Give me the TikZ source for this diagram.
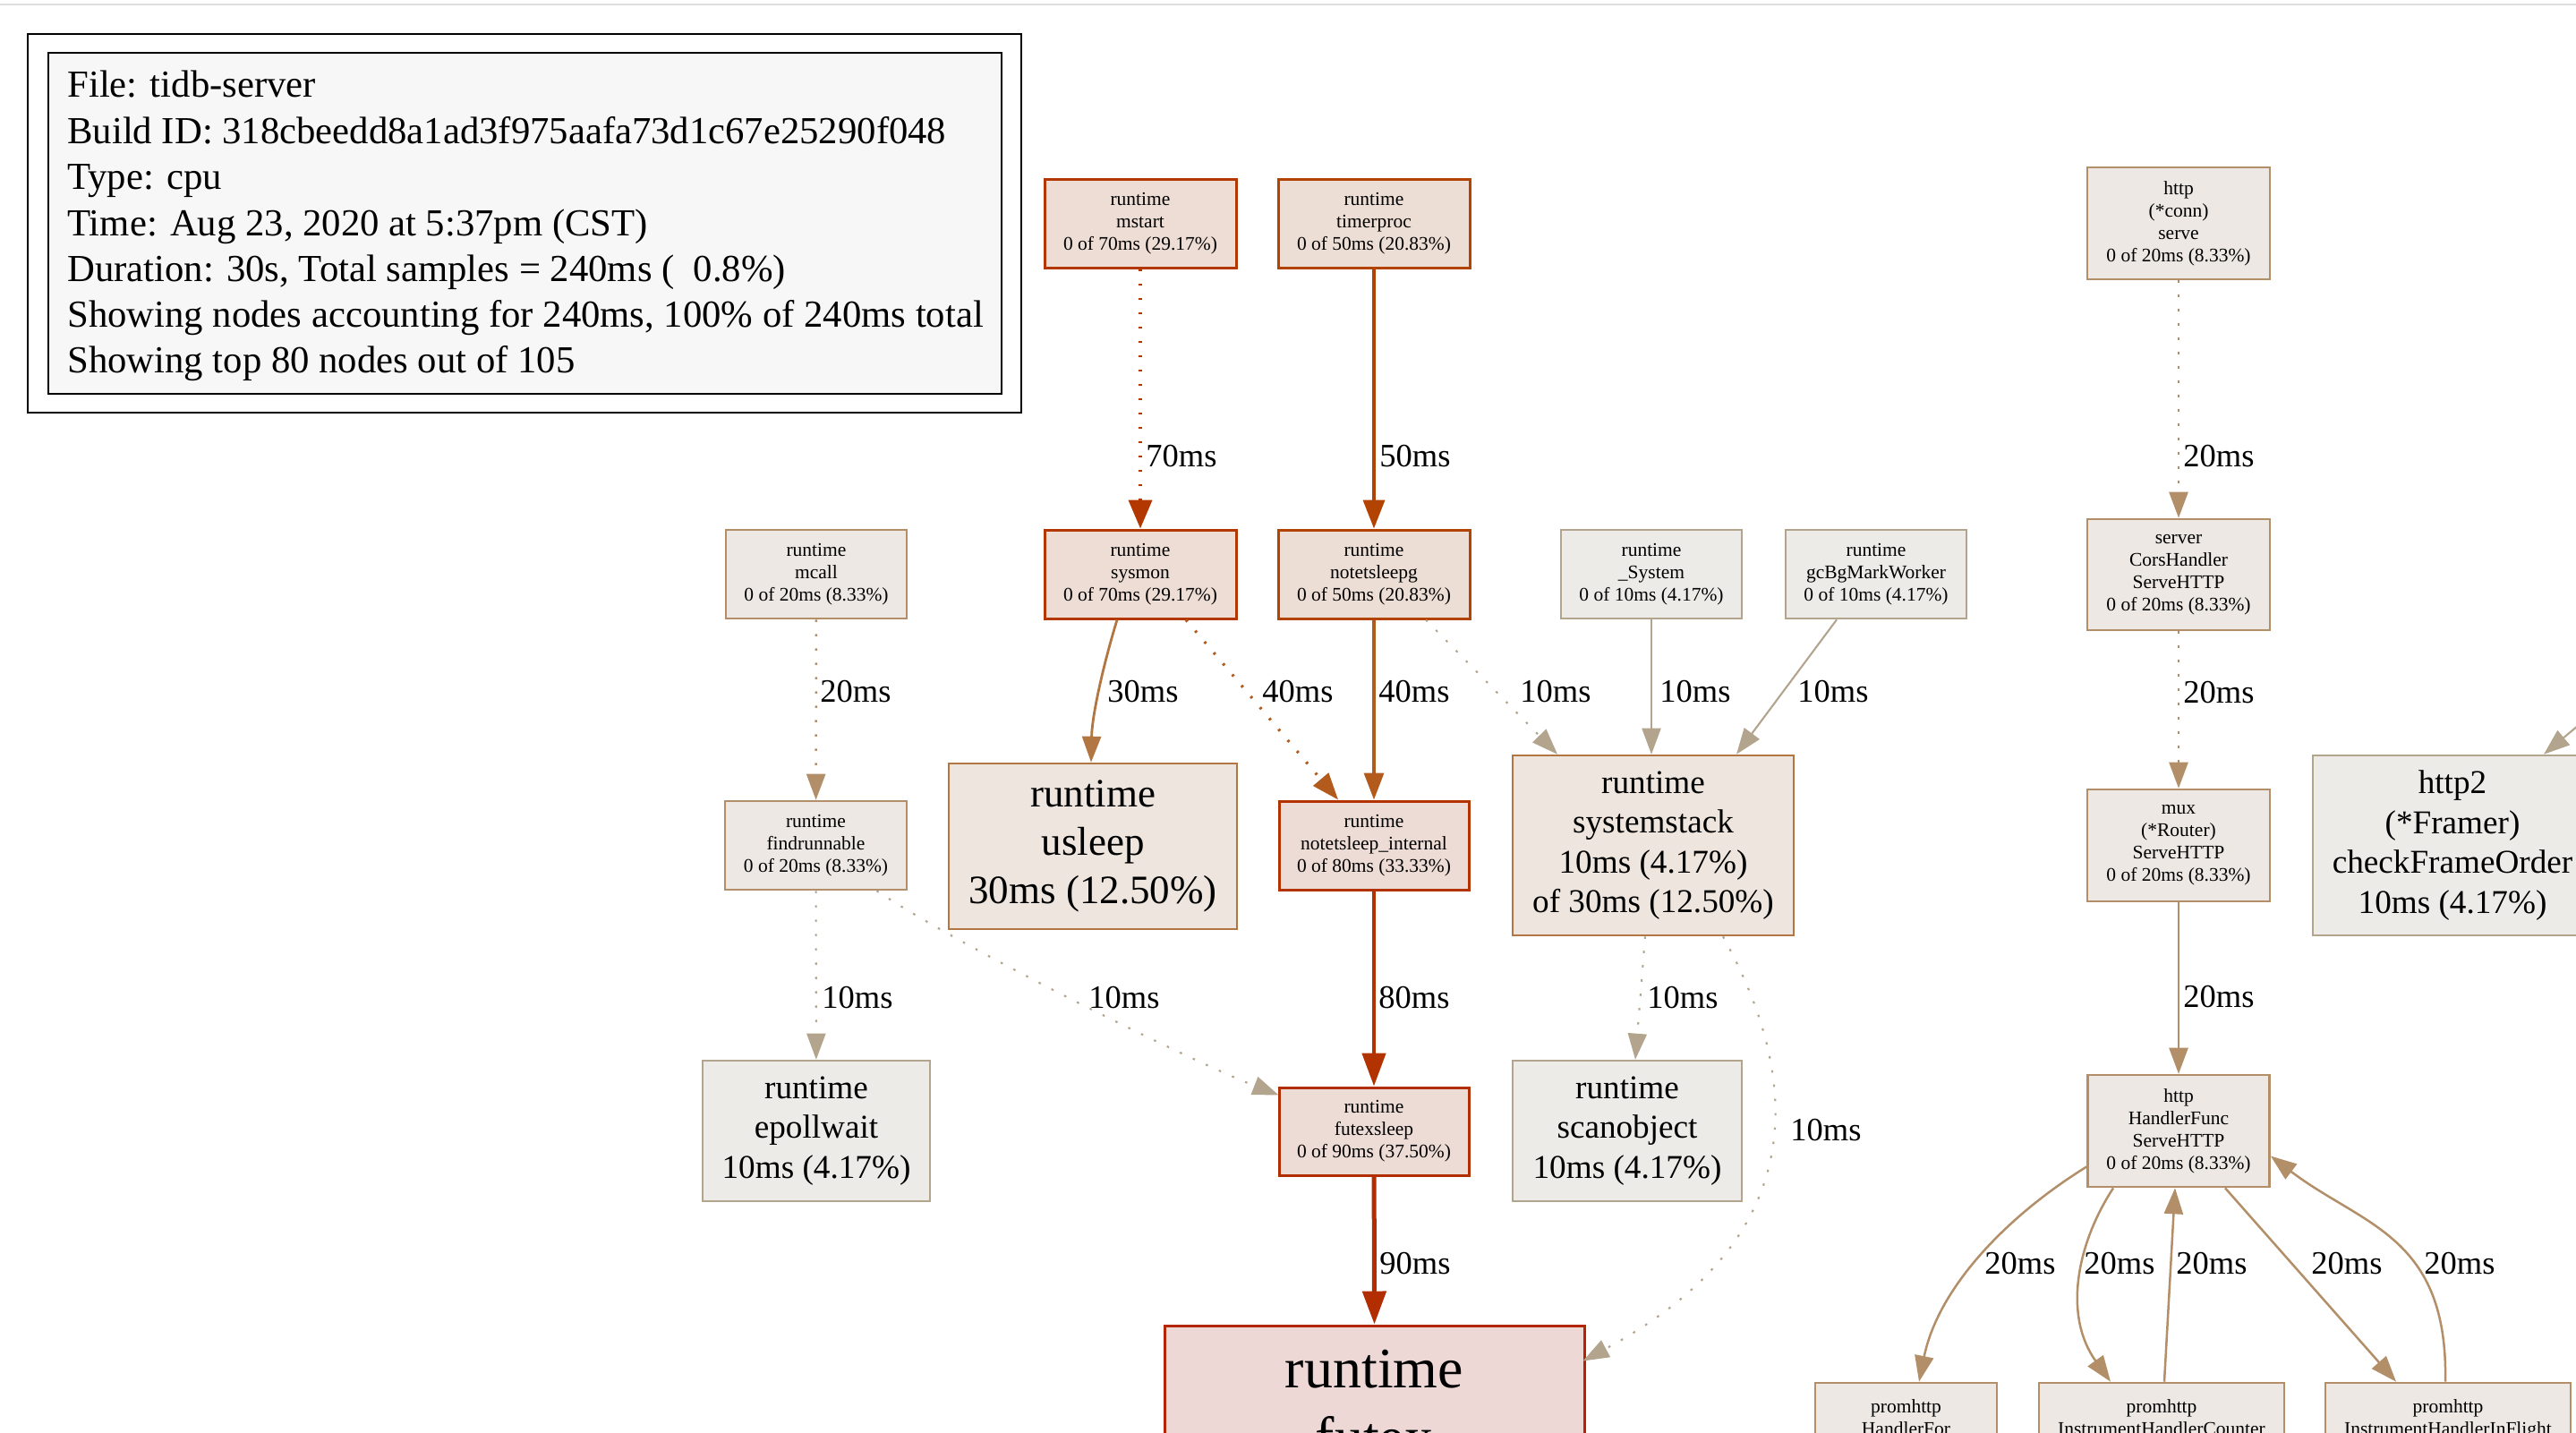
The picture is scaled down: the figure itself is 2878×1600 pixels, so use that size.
\documentclass[tikz,border=0pt]{standalone}
\usepackage{fontspec}
\setmainfont{Liberation Serif}
\usetikzlibrary{arrows.meta,calc}
\definecolor{bg70}{HTML}{EDDDD5}\definecolor{fg70}{HTML}{B23700}
\definecolor{bg50}{HTML}{EDDED5}\definecolor{fg50}{HTML}{B24300}
\definecolor{bg40}{HTML}{EDE1D9}\definecolor{fg40}{HTML}{B25B1D}
\definecolor{bg30}{HTML}{EDE5DE}\definecolor{fg30}{HTML}{B27642}
\definecolor{bg20}{HTML}{EDE8E3}\definecolor{fg20}{HTML}{B28F68}
\definecolor{bg10}{HTML}{EDEBE8}\definecolor{fg10}{HTML}{B2A48D}
\definecolor{bg80}{HTML}{EDDCD5}\definecolor{fg80}{HTML}{B23200}
\definecolor{bg90}{HTML}{EDDBD5}\definecolor{fg90}{HTML}{B22D00}
\definecolor{bgfx}{HTML}{EDD8D6}\definecolor{fgfx}{HTML}{B22500}
\definecolor{hdrfill}{HTML}{F7F7F7}
\definecolor{topline}{HTML}{DEDEDE}
\begin{document}
\begin{tikzpicture}[x=0.5pt,y=-0.5pt,
  sm/.style={draw, align=center, inner sep=1pt, line width=1.3pt, font=\fontsize{10.75}{12.5}\selectfont},
  md/.style={draw, align=center, inner sep=1pt, line width=1.3pt, font=\fontsize{18.6}{22.2}\selectfont},
  bigtxt/.style={align=center, inner sep=1pt, font=\fontsize{22.5}{27}\selectfont},
  smline/.style={anchor=base, inner sep=0pt, font=\fontsize{10.75}{12.5}\selectfont},
  fxline/.style={anchor=base, inner sep=0pt, font=\fontsize{32}{38.5}\selectfont},
  hdrline/.style={anchor=base west, inner sep=0pt, font=\fontsize{21.35}{25.6}\selectfont},
  lbl/.style={anchor=west, inner sep=0pt, font=\fontsize{18.25}{22}\selectfont},
  n10/.style={fill=bg10, draw=fg10},
  n20/.style={fill=bg20, draw=fg20},
  n30/.style={fill=bg30, draw=fg30},
  n50/.style={fill=bg50, draw=fg50, line width=1.5pt},
  n70/.style={fill=bg70, draw=fg70, line width=1.5pt},
  n80/.style={fill=bg80, draw=fg80, line width=1.5pt},
  n90/.style={fill=bg90, draw=fg90, line width=1.5pt},
  dotl/.style={dash pattern=on 1.3pt off 6.7pt},
  w10/.style={draw=fg10, line width=1.05pt, -{Triangle[width=10.5pt,length=14.5pt]}},
  w20/.style={draw=fg20, line width=1.25pt, -{Triangle[width=10.5pt,length=14.5pt]}},
  w30/.style={draw=fg30, line width=1.4pt, -{Triangle[width=10.5pt,length=14.5pt]}},
  w40/.style={draw=fg40, line width=1.6pt, -{Triangle[width=11pt,length=15pt]}},
  w50/.style={draw=fg50, line width=1.8pt, -{Triangle[width=12pt,length=16pt]}},
  w70/.style={draw=fg70, line width=2.05pt, -{Triangle[width=13pt,length=16pt]}},
  w80/.style={draw=fg80, line width=2.3pt, -{Triangle[width=13pt,length=18.5pt]}},
  w90/.style={draw=fg90, line width=2.5pt, -{Triangle[width=13pt,length=18.5pt]}},
]
\useasboundingbox (0,0) rectangle (2878,1600);
\clip (0,0) rectangle (2878,1600);
\fill[white] (0,0) rectangle (2878,1600);
\draw[topline, line width=1pt] (0,5) -- (2878,5);

% legend
\node[draw=black, fill=white, line width=1pt, minimum width=555pt, minimum height=211.5pt] (legendout) at (586,249.5) {};
\node[draw=black, fill=hdrfill, line width=1.3pt, minimum width=532.5pt, minimum height=190.5pt] (legendin) at (586.5,249.5) {};
\node[hdrline] (h1) at (75,109) {File: tidb-server};
\node[hdrline] (h2) at (75,160) {Build ID: 318cbeedd8a1ad3f975aafa73d1c67e25290f048};
\node[hdrline] (h3) at (75,211) {Type: cpu};
\node[hdrline] (h4) at (75,263) {Time: Aug 23, 2020 at 5:37pm (CST)};
\node[hdrline] (h5) at (75,314) {Duration: 30s, Total samples = 240ms (\ \ 0.8\%)};
\node[hdrline] (h6) at (75,365) {Showing nodes accounting for 240ms, 100\% of 240ms total};
\node[hdrline] (h7) at (75,416) {Showing top 80 nodes out of 105};

% nodes
\node[sm,n70, minimum width=107pt, minimum height=49.5pt] (mstart) at (1274,249.5) {runtime\\mstart\\0 of 70ms (29.17\%)};
\node[sm,n50, minimum width=107pt, minimum height=49.5pt] (timerproc) at (1535,249.5) {runtime\\timerproc\\0 of 50ms (20.83\%)};
\node[sm,n20, minimum width=101pt, minimum height=49.5pt] (mcall) at (912,641.5) {runtime\\mcall\\0 of 20ms (8.33\%)};
\node[sm,n70, minimum width=107pt, minimum height=49.5pt] (sysmon) at (1274,641.5) {runtime\\sysmon\\0 of 70ms (29.17\%)};
\node[sm,n50, minimum width=107pt, minimum height=49.5pt] (notetsleepg) at (1535,641.5) {runtime\\notetsleepg\\0 of 50ms (20.83\%)};
\node[sm,n10, minimum width=101pt, minimum height=49.5pt] (sys) at (1845,641.5) {runtime\\\_System\\0 of 10ms (4.17\%)};
\node[sm,n10, minimum width=101pt, minimum height=49.5pt] (gcbg) at (2096,641.5) {runtime\\gcBgMarkWorker\\0 of 10ms (4.17\%)};
\node[sm,n20, minimum width=101.5pt, minimum height=49.5pt] (findrunnable) at (911.5,944.5) {runtime\\findrunnable\\0 of 20ms (8.33\%)};
\node[bigtxt,draw,n30,line width=1.3pt, minimum width=161pt, minimum height=92.5pt] (usleep) at (1221,945.5) {runtime\\usleep\\30ms (12.50\%)};
\node[sm,n80, minimum width=106pt, minimum height=49.5pt] (internal) at (1535,944.5) {runtime\\notetsleep\_internal\\0 of 80ms (33.33\%)};
\node[md,n30, minimum width=157pt, minimum height=100.5pt] (systemstack) at (1847,944.5) {runtime\\systemstack\\10ms (4.17\%)\\of 30ms (12.50\%)};
\node[md,n10, minimum width=127pt, minimum height=78.5pt] (epollwait) at (912,1263.5) {runtime\\epollwait\\10ms (4.17\%)};
\node[sm,n90, minimum width=106pt, minimum height=49pt] (futexsleep) at (1535,1264) {runtime\\futexsleep\\0 of 90ms (37.50\%)};
\node[md,n10, minimum width=128pt, minimum height=78.5pt] (scanobject) at (1818,1263.5) {runtime\\scanobject\\10ms (4.17\%)};
\node[draw=fgfx, fill=bgfx, line width=1.5pt, minimum width=234.5pt, minimum height=128pt] (futex) at (1535.5,1609) {};
\node[fxline] (futext1) at (1535.5,1550) {runtime};
\node[fxline] (futext2) at (1535.5,1627) {futex};

\node[sm,n20, minimum width=102pt, minimum height=62.5pt] (conn) at (2434,249.5) {http\\(*conn)\\serve\\0 of 20ms (8.33\%)};
\node[sm,n20, minimum width=102pt, minimum height=62pt] (server) at (2434,642) {server\\CorsHandler\\ServeHTTP\\0 of 20ms (8.33\%)};
\node[sm,n20, minimum width=102pt, minimum height=62.5pt] (mux) at (2434,944.5) {mux\\(*Router)\\ServeHTTP\\0 of 20ms (8.33\%)};
\node[md,n10, minimum width=156pt, minimum height=100.5pt] (http2) at (2740,944.5) {http2\\(*Framer)\\checkFrameOrder\\10ms (4.17\%)};
\node[sm,n20, minimum width=101.5pt, minimum height=62.5pt] (hfunc) at (2434,1263.5) {http\\HandlerFunc\\ServeHTTP\\0 of 20ms (8.33\%)};
\node[draw,n20,line width=1.3pt, minimum width=101.5pt, minimum height=62.5pt] (hfor) at (2129.5,1607.5) {};
\node[draw,n20,line width=1.3pt, minimum width=137pt, minimum height=62.5pt] (counter) at (2415,1607.5) {};
\node[draw,n20,line width=1.3pt, minimum width=137pt, minimum height=62.5pt] (inflight) at (2735,1607.5) {};
\node[smline] (hfort1) at (2129.5,1578) {promhttp};
\node[smline] (hfort2) at (2129.5,1603) {HandlerFor};
\node[smline] (countert1) at (2415,1578) {promhttp};
\node[smline] (countert2) at (2415,1603) {InstrumentHandlerCounter};
\node[smline] (inflightt1) at (2735,1578) {promhttp};
\node[smline] (inflightt2) at (2735,1603) {InstrumentHandlerInFlight};

% edges
\draw[w70,dotl] (mstart) -- (sysmon);
\draw[w50] (timerproc) -- (notetsleepg);
\draw[w20,dotl] (conn) -- (server);
\draw[w20,dotl] (server) -- (mux);
\draw[w20] (mux) -- (hfunc);
\draw[w20,dotl] (mcall) -- (findrunnable);
\draw[w30] ($(sysmon.south)+(-26,0)$) .. controls (1232,745) and (1220,800) .. ($(usleep.north)+(-2,0)$);
\draw[w40,dotl] ($(sysmon.south)+(51,0)$) -- ($(internal.north)+(-40,0)$);
\draw[w40] (notetsleepg) -- (internal);
\draw[w10,dotl] ($(notetsleepg.south)+(58,0)$) -- ($(systemstack.north)+(-107,0)$);
\draw[w10] (sys.south) -- (sys.south |- systemstack.north);
\draw[w10] ($(gcbg.south)+(-44,0)$) -- ($(systemstack.north)+(93,0)$);
\draw[w10,dotl] (findrunnable) -- (epollwait);
\draw[w10,dotl] ($(findrunnable.south)+(68,0)$) .. controls (1080,1062) and (1330,1185) .. ($(futexsleep.north west)+(1,10)$);
\draw[w80] (internal) -- (futexsleep);
\draw[w90] (futexsleep) -- (futex.north);
\draw[w10,dotl] ($(systemstack.south)+(-9,0)$) -- ($(scanobject.north)+(9,0)$);
\draw[w10,dotl] ($(systemstack.south)+(78,0)$) .. controls (2010,1200) and (2030,1380) .. ($(futex.north east)+(-3,41)$);
\coordinate (h2src) at (2905,790);
\draw[w10] (h2src) -- ($(http2.north)+(102,0)$);
\draw[w20] ($(hfunc.west)+(0,40)$) .. controls (2240,1360) and (2165,1440) .. ($(hfor.north)+(14.5,0)$);
\draw[w20] ($(hfunc.south)+(-73,0)$) .. controls (2320,1390) and (2305,1470) .. ($(counter.north)+(-57,0)$);
\draw[w20] ($(counter.north)+(3,0)$) -- ($(hfunc.south)+(-4,0)$);
\draw[w20] ($(hfunc.south)+(52,0)$) -- ($(inflight.north)+(-58,0)$);
\draw[w20] ($(inflight.north)+(-3,0)$) .. controls (2735,1380) and (2640,1370) .. ($(hfunc.east)+(0,28)$);

% edge labels
\node[lbl] (l70) at (1280,510) {70ms};
\node[lbl] (l50) at (1541,510) {50ms};
\node[lbl] (lconn) at (2439,510) {20ms};
\node[lbl] (lmcall) at (916,773) {20ms};
\node[lbl] (l30) at (1237,773) {30ms};
\node[lbl] (l40a) at (1410,773) {40ms};
\node[lbl] (l40b) at (1540,773) {40ms};
\node[lbl] (l10a) at (1698,773) {10ms};
\node[lbl] (l10b) at (1854,773) {10ms};
\node[lbl] (l10c) at (2008,773) {10ms};
\node[lbl] (lserver) at (2439,774) {20ms};
\node[lbl] (l10d) at (918,1115) {10ms};
\node[lbl] (l10e) at (1216,1115) {10ms};
\node[lbl] (l80) at (1540,1115) {80ms};
\node[lbl] (l10f) at (1840,1115) {10ms};
\node[lbl] (lmux) at (2439,1114) {20ms};
\node[lbl] (l10g) at (2000,1263) {10ms};
\node[lbl] (l90) at (1541,1412) {90ms};
\node[lbl] (lh1) at (2217,1412) {20ms};
\node[lbl] (lh2) at (2328,1412) {20ms};
\node[lbl] (lh3) at (2431,1412) {20ms};
\node[lbl] (lh4) at (2582,1412) {20ms};
\node[lbl] (lh5) at (2708,1412) {20ms};
\end{tikzpicture}
\end{document}
